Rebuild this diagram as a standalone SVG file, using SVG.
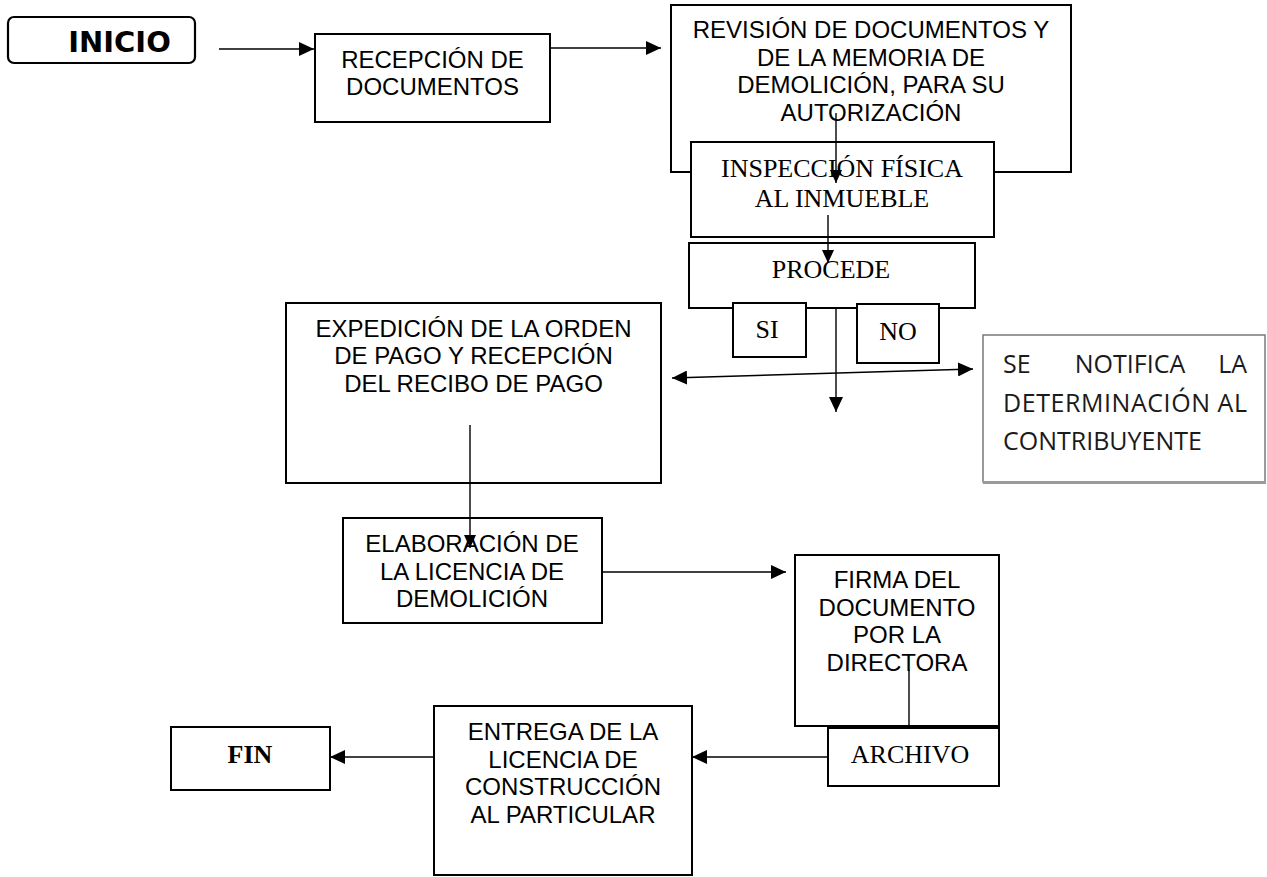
<svg xmlns="http://www.w3.org/2000/svg" width="1267" height="877" viewBox="0 0 1267 877">
<defs>
<marker id="arr" viewBox="0 0 15 14" refX="15" refY="7" markerWidth="15" markerHeight="14" markerUnits="userSpaceOnUse" orient="auto-start-reverse">
<path d="M0,0 L15,7 L0,14 Z" fill="#000"/>
</marker>
<marker id="arrs" viewBox="0 0 13 12" refX="13" refY="6" markerWidth="13" markerHeight="12" markerUnits="userSpaceOnUse" orient="auto">
<path d="M0,0 L13,6 L0,12 Z" fill="#000"/>
</marker>
</defs>
<style>
.box{fill:#fff;stroke:#000;stroke-width:2}
.sans{font-family:"Liberation Sans",Arial,sans-serif;font-size:24px;fill:#000;text-anchor:middle}
.serif{font-family:"Liberation Serif","Times New Roman",serif;font-size:26px;fill:#000;text-anchor:middle}
.con{fill:none;stroke:#000;stroke-width:1.4}
.note{font-family:"Open Sans","Noto Sans",sans-serif;font-size:25px;fill:#1a1a1a}
</style>
<rect width="1267" height="877" fill="#fff"/>

<g id="inicio">
<rect x="8" y="17" width="187" height="46" rx="6" ry="6" fill="#fff" stroke="#000" stroke-width="2.2"/>
<text x="119.5" y="52" style="font-family:'DejaVu Sans',sans-serif;font-weight:bold;font-size:29px;text-anchor:middle">INICIO</text>
</g>

<g id="recepcion">
<rect class="box" x="315" y="34" width="235" height="88"/>
<text class="sans" x="432.5" y="68">RECEPCIÓN DE</text>
<text class="sans" x="432.5" y="95">DOCUMENTOS</text>
</g>

<g id="revision">
<rect class="box" x="671" y="5" width="400" height="167"/>
<text class="sans" x="871" y="38">REVISIÓN DE DOCUMENTOS Y</text>
<text class="sans" x="871" y="65.5">DE LA MEMORIA DE</text>
<text class="sans" x="871" y="93">DEMOLICIÓN, PARA SU</text>
<text class="sans" x="871" y="120.5">AUTORIZACIÓN</text>
</g>

<g id="inspeccion">
<rect class="box" x="691" y="142" width="303" height="95"/>
<text class="serif" x="842" y="177">INSPECCIÓN FÍSICA</text>
<text class="serif" x="842" y="207">AL INMUEBLE</text>
</g>

<g id="procede">
<rect class="box" x="689" y="243" width="286" height="65"/>
<text class="serif" x="831" y="278">PROCEDE</text>
</g>

<g id="si">
<rect class="box" x="733" y="303" width="73" height="54"/>
<text class="serif" x="767" y="338">SI</text>
</g>

<g id="no">
<rect class="box" x="857" y="304" width="82" height="59"/>
<text class="serif" x="898" y="340">NO</text>
</g>

<g id="expedicion">
<rect class="box" x="286" y="303" width="375" height="180"/>
<text class="sans" x="473.5" y="337">EXPEDICIÓN DE LA ORDEN</text>
<text class="sans" x="473.5" y="364">DE PAGO Y RECEPCIÓN</text>
<text class="sans" x="473.5" y="392">DEL RECIBO DE PAGO</text>
</g>

<g id="notifica">
<rect x="983" y="335" width="282" height="147" fill="#fff" stroke="#7a7a7a" stroke-width="1.5"/>
<line x1="983" y1="482.5" x2="1266" y2="482.5" stroke="#9a9a9a" stroke-width="3"/>
<text class="note" x="1003" y="373">SE</text>
<text class="note" x="1130" y="373" text-anchor="middle">NOTIFICA</text>
<text class="note" x="1247" y="373" text-anchor="end">LA</text>
<text class="note" x="1003" y="412" textLength="244" lengthAdjust="spacing">DETERMINACIÓN AL</text>
<text class="note" x="1003" y="450">CONTRIBUYENTE</text>
</g>

<g id="elaboracion">
<rect class="box" x="343" y="518" width="259" height="105"/>
<text class="sans" x="472" y="552">ELABORACIÓN DE</text>
<text class="sans" x="472" y="580">LA LICENCIA DE</text>
<text class="sans" x="472" y="607">DEMOLICIÓN</text>
</g>

<g id="firma">
<rect class="box" x="795" y="555" width="204" height="171"/>
<text class="sans" x="897" y="588">FIRMA DEL</text>
<text class="sans" x="897" y="616">DOCUMENTO</text>
<text class="sans" x="897" y="643">POR LA</text>
<text class="sans" x="897" y="671">DIRECTORA</text>
</g>

<g id="archivo">
<rect class="box" x="828" y="728" width="171" height="58"/>
<text class="serif" x="910" y="763">ARCHIVO</text>
</g>

<g id="entrega">
<rect class="box" x="434" y="706" width="258" height="169"/>
<text class="sans" x="563" y="740">ENTREGA DE LA</text>
<text class="sans" x="563" y="768">LICENCIA DE</text>
<text class="sans" x="563" y="795">CONSTRUCCIÓN</text>
<text class="sans" x="563" y="823">AL PARTICULAR</text>
</g>

<g id="fin">
<rect class="box" x="171" y="727" width="159" height="63"/>
<text x="250" y="763" style="font-family:'Liberation Serif','Times New Roman',serif;font-weight:bold;font-size:26px;text-anchor:middle">FIN</text>
</g>

<g id="connectors">
<path class="con" d="M219,49 L314,49" marker-end="url(#arr)"/>
<path class="con" d="M550,48 L661,48" marker-end="url(#arr)"/>
<path class="con" d="M836,113 L836,183" marker-end="url(#arrs)"/>
<path class="con" d="M828,215 L828,263" marker-end="url(#arrs)"/>
<path class="con" d="M836,308 L836,412" marker-end="url(#arr)"/>
<path class="con" d="M672,378 L973,369" marker-start="url(#arr)" marker-end="url(#arr)"/>
<path class="con" d="M470,425 L470,548" marker-end="url(#arrs)"/>
<path class="con" d="M602,572 L786,572" marker-end="url(#arr)"/>
<path class="con" d="M909,670 L909,726"/>
<path class="con" d="M828,757 L692,757" marker-end="url(#arr)"/>
<path class="con" d="M434,757 L330,757" marker-end="url(#arr)"/>
</g>
</svg>
